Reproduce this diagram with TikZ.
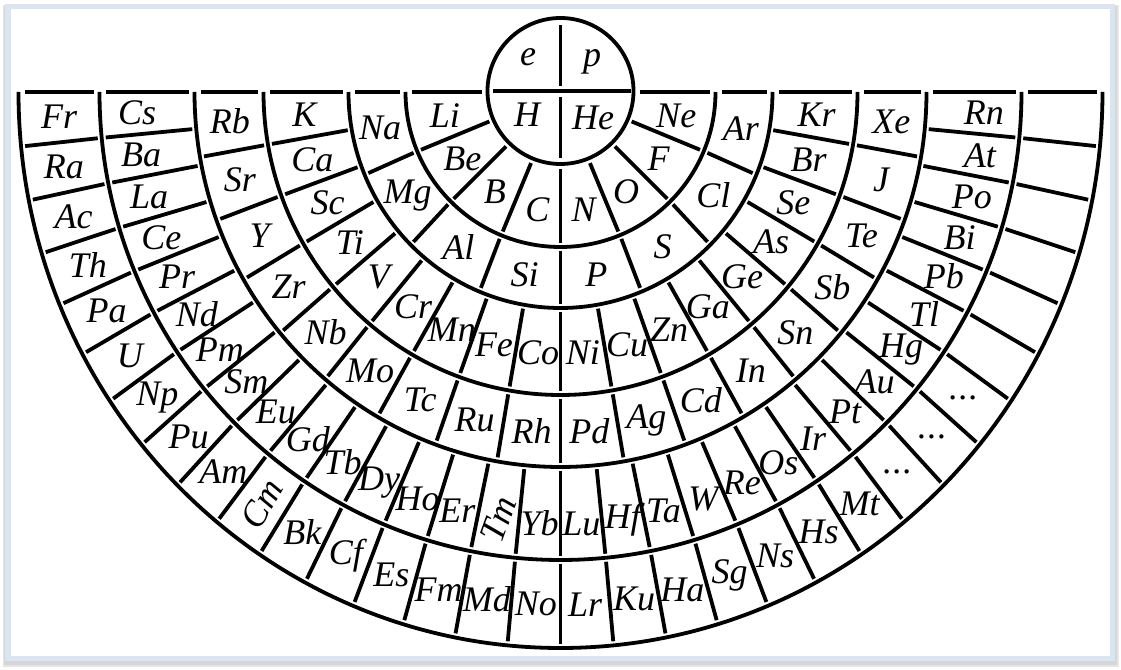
\documentclass[tikz,border=0pt]{standalone}
\usepackage{fontspec}
\setmainfont{Liberation Serif}
\usepackage{graphicx}
\definecolor{frameblue}{HTML}{DBE5F1}
\newcommand\cx{560.5}
\newcommand\cy{578}
\newcommand\threedots{.\kern0.5pt.\kern0.5pt.}
\newcommand\ringarc[2]{\draw (\cx-#1,\cy) arc[start angle=180,end angle=360,x radius=#1,y radius=#2];}
\newcommand\ringseps[5]{%
  \pgfmathtruncatemacro\nsep{#5-1}%
  \foreach \i in {1,...,\nsep}{%
    \pgfmathsetmacro\t{180+\i*180/#5}%
    \draw ({\cx+(#1+4)*cos(\t)},{\cy+(#2+4)*sin(\t)}) -- ({\cx+(#3-4)*cos(\t)},{\cy+(#4-4)*sin(\t)});
  }}
\newcommand\ringlabels[5]{%
  \foreach \l [count=\k from 0] in {#5}{%
    \pgfmathsetmacro\t{180+(\k+0.5)*180/#4}%
    \node[lbl] (#1\k) at ({\cx+#2*cos(\t)},{\cy+#3*sin(\t)}) {\l};
  }}
\newcommand\ringcaps[2]{%
  \draw (\cx-#2+6,\cy) -- (\cx-#1-6,\cy);
  \draw (\cx+#1+6,\cy) -- (\cx+#2-6,\cy);}
\begin{document}
\begin{tikzpicture}[x=0.5pt,y=0.5pt,line width=1.9pt,
  lbl/.style={font=\fontsize{18}{18}\selectfont\itshape,inner sep=0pt}]
\useasboundingbox (0,0) rectangle (1121,670);
% frame
\fill[black!10] (3,3) rectangle (1119,665);
\fill[black!16] (4,5) rectangle (1117,664);
\fill[frameblue] (5,9) rectangle (1115,666);
\fill[white] (11,14) rectangle (1110,661);
% central circle
\draw (\cx,579) circle[radius=73];
\draw (\cx-68,579) -- (\cx+70,579);
\draw (\cx,584) -- (\cx,645);
\draw (\cx,573) -- (\cx,512);
\node[lbl] (e) at (528,613) {e};
\node[lbl] (p) at (592,608) {p};
\node[lbl] (H) at (527,555) {H};
\node[lbl] (He) at (593,552) {He};
% ring arcs
\ringarc{155}{155}
\ringarc{212}{216}
\ringarc{297}{303}
\ringarc{366}{375}
\ringarc{461}{468}
\ringarc{542}{556}
% top caps
\ringcaps{73}{155}
\ringcaps{155}{212}
\ringcaps{212}{297}
\ringcaps{297}{366}
\ringcaps{366}{461}
\ringcaps{461}{542}
% separators
\ringseps{73}{73}{155}{155}{8}
\ringseps{155}{155}{212}{216}{8}
\ringseps{212}{216}{297}{303}{18}
\ringseps{297}{303}{366}{375}{18}
\ringseps{366}{375}{461}{468}{32}
\ringseps{461}{468}{542}{556}{32}
% labels
\ringlabels{a}{118}{120}{8}{Li,Be,B,C,N,O,F,Ne}
\ringlabels{b}{184}{186}{8}{Na,Mg,Al,Si,P,S,Cl,Ar}
\ringlabels{c}{257}{262}{18}{K,Ca,Sc,Ti,V,Cr,Mn,Fe,Co,Ni,Cu,Zn,Ga,Ge,As,Se,Br,Kr}
\ringlabels{d}{332}{340}{18}{Rb,Sr,Y,Zr,Nb,Mo,Tc,Ru,Rh,Pd,Ag,Cd,In,Sn,Sb,Te,J,Xe}
\ringlabels{f}{424}{432}{32}{Cs,Ba,La,Ce,Pr,Nd,Pm,Sm,Eu,Gd,Tb,Dy,Ho,Er,{\rotatebox{70}{Tm}},Yb,Lu,Hf,Ta,W,Re,Os,Ir,Pt,Au,Hg,Tl,Pb,Bi,Po,At,Rn}
\ringlabels{g}{502}{513}{32}{Fr,Ra,Ac,Th,Pa,U,Np,Pu,Am,{\rotatebox{60}{Cm}},Bk,Cf,Es,Fm,Md,No,Lr,Ku,Ha,Sg,Ns,Hs,Mt,\threedots,\threedots,\threedots}
\end{tikzpicture}
\end{document}
